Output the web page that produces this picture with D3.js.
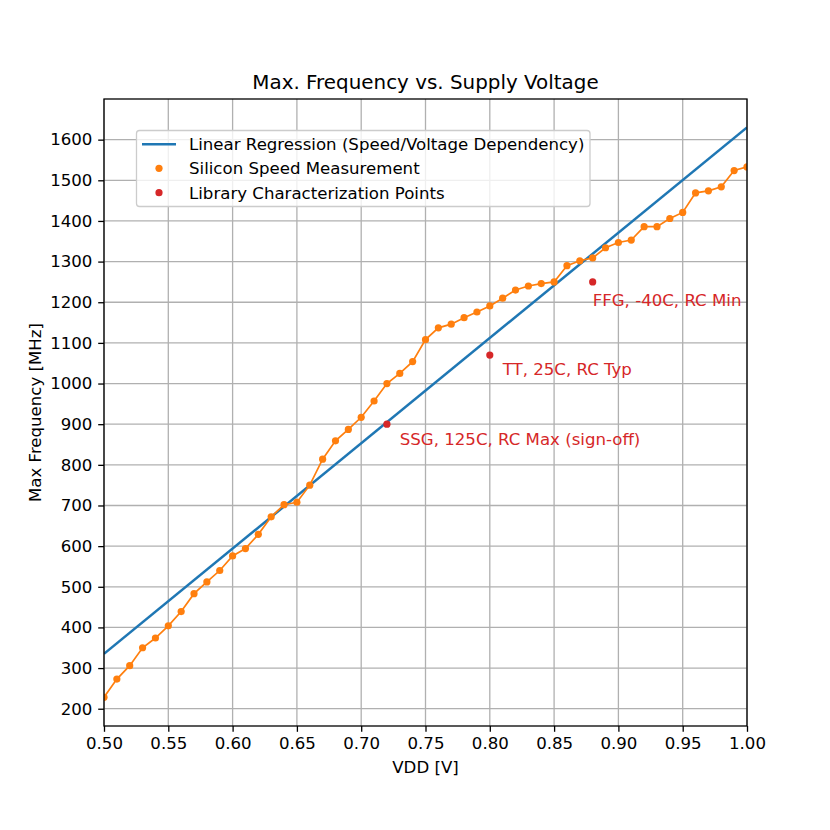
<!DOCTYPE html>
<html>
<head>
<meta charset="utf-8">
<script src="https://cdn.jsdelivr.net/npm/d3@7"></script>
<style>
  body { margin: 0; background: #fff; }
  text { font-family: 'DejaVu Sans', sans-serif; }
</style>
</head>
<body>
<div id="chart"></div>
<script>
// measured silicon speed
const vdd = [0.50, 0.51, 0.52, 0.53, 0.54, 0.55, 0.56, 0.57, 0.58, 0.59,
             0.60, 0.61, 0.62, 0.63, 0.64, 0.65, 0.66, 0.67, 0.68, 0.69,
             0.70, 0.71, 0.72, 0.73, 0.74, 0.75, 0.76, 0.77, 0.78, 0.79,
             0.80, 0.81, 0.82, 0.83, 0.84, 0.85, 0.86, 0.87, 0.88, 0.89,
             0.90, 0.91, 0.92, 0.93, 0.94, 0.95, 0.96, 0.97, 0.98, 0.99, 1.00];
const freq = [228, 273, 306, 350, 374, 404, 439, 483, 512, 540,
              576, 594, 629, 672, 702, 708, 750, 814, 859, 887,
              917, 957, 1000, 1025, 1054, 1108, 1137, 1146, 1162, 1176,
              1191, 1210, 1230, 1240, 1246, 1250, 1290, 1302, 1309, 1334,
              1347, 1353, 1386, 1386, 1406, 1421, 1469, 1474, 1484, 1524, 1533];

// linear regression end points
const regVdd = [0.50, 1.00];
const regFreq = [335, 1630];

// library characterization points
const libVdd = [0.72, 0.80, 0.88];
const libFreq = [900, 1070, 1250];
const libLabels = ['SSG, 125C, RC Max (sign-off)', 'TT, 25C, RC Typ', 'FFG, -40C, RC Min'];
const libLabelVdd = [0.73, 0.81, 0.88];
const libLabelFreq = [850, 1020, 1190];

const xTicks = [0.50, 0.55, 0.60, 0.65, 0.70, 0.75, 0.80, 0.85, 0.90, 0.95, 1.00];
const yTicks = [200, 300, 400, 500, 600, 700, 800, 900, 1000, 1100, 1200, 1300, 1400, 1500, 1600];

const legendItems = ['Linear Regression (Speed/Voltage Dependency)', 'Silicon Speed Measurement', 'Library Characterization Points'];

const W = 830, H = 830;
const pLeft = 104, pRight = 747, pTop = 99, pBottom = 726;
const fs = '16.6px';

const svg = d3.select('#chart')
    .append('svg')
    .attr('width', W)
    .attr('height', H);

svg.append('rect').attr('width', W).attr('height', H).attr('fill', 'white');

const x = d3.scaleLinear().domain([0.50, 1.00]).range([pLeft, pRight]);
const y = d3.scaleLinear().domain([157.5, 1700]).range([pBottom, pTop]);

// grid
svg.append('g')
    .selectAll('line')
    .data(xTicks)
    .enter()
    .append('line')
    .attr('x1', d => x(d)).attr('x2', d => x(d))
    .attr('y1', pTop).attr('y2', pBottom)
    .attr('stroke', '#b0b0b0')
    .attr('stroke-width', 1.3);

svg.append('g')
    .selectAll('line')
    .data(yTicks)
    .enter()
    .append('line')
    .attr('x1', pLeft).attr('x2', pRight)
    .attr('y1', d => y(d)).attr('y2', d => y(d))
    .attr('stroke', '#b0b0b0')
    .attr('stroke-width', 1.3);

// clip
svg.append('clipPath').attr('id', 'clip')
    .append('rect').attr('x', pLeft).attr('y', pTop).attr('width', pRight - pLeft).attr('height', pBottom - pTop);
const plot = svg.append('g').attr('clip-path', 'url(#clip)');

// regression
const line = d3.line().x(d => x(d[0])).y(d => y(d[1]));
plot.append('path')
    .datum(d3.zip(regVdd, regFreq))
    .attr('d', line)
    .attr('fill', 'none')
    .attr('stroke', '#1f77b4')
    .attr('stroke-width', 2.5);

// measurement
plot.append('path')
    .datum(d3.zip(vdd, freq))
    .attr('d', line)
    .attr('fill', 'none')
    .attr('stroke', '#ff7f0e')
    .attr('stroke-width', 1.7);

plot.selectAll('.meas')
    .data(d3.zip(vdd, freq))
    .enter()
    .append('circle')
    .attr('class', 'meas')
    .attr('cx', d => x(d[0]))
    .attr('cy', d => y(d[1]))
    .attr('r', 3.6)
    .attr('fill', '#ff7f0e');

plot.selectAll('.lib')
    .data(d3.zip(libVdd, libFreq))
    .enter()
    .append('circle')
    .attr('class', 'lib')
    .attr('cx', d => x(d[0]))
    .attr('cy', d => y(d[1]))
    .attr('r', 3.6)
    .attr('fill', '#d62728');

svg.selectAll('.libtext')
    .data(libLabels)
    .enter()
    .append('text')
    .attr('class', 'libtext')
    .attr('x', (d, i) => x(libLabelVdd[i]))
    .attr('y', (d, i) => y(libLabelFreq[i]))
    .attr('font-size', fs)
    .attr('fill', '#d62728')
    .text(d => d);

// axes
const xAxis = svg.append('g')
    .attr('transform', 'translate(0,' + pBottom + ')')
    .call(d3.axisBottom(x).tickValues(xTicks).tickFormat(d3.format('.2f')).tickSizeOuter(0).tickSize(5.8).tickPadding(5.8));
const yAxis = svg.append('g')
    .attr('transform', 'translate(' + pLeft + ',0)')
    .call(d3.axisLeft(y).tickValues(yTicks).tickFormat(d3.format('d')).tickSizeOuter(0).tickSize(5.8).tickPadding(5.8));

[xAxis, yAxis].forEach(a => {
    a.select('.domain').remove();
    a.selectAll('line').attr('stroke', 'black').attr('stroke-width', 1.3);
    a.selectAll('text').attr('font-size', fs).attr('fill', 'black')
        .attr('font-family', "'DejaVu Sans', sans-serif");
});

// spines
svg.append('rect')
    .attr('x', pLeft).attr('y', pTop)
    .attr('width', pRight - pLeft).attr('height', pBottom - pTop)
    .attr('fill', 'none')
    .attr('stroke', 'black')
    .attr('stroke-width', 1.3);

// labels
svg.append('text')
    .attr('x', (pLeft + pRight) / 2)
    .attr('y', 89)
    .attr('text-anchor', 'middle')
    .attr('font-size', '19.9px')
    .text('Max. Frequency vs. Supply Voltage');

svg.append('text')
    .attr('x', (pLeft + pRight) / 2)
    .attr('y', 773)
    .attr('text-anchor', 'middle')
    .attr('font-size', fs)
    .text('VDD [V]');

svg.append('text')
    .attr('transform', 'translate(41,' + ((pTop + pBottom) / 2) + ') rotate(-90)')
    .attr('text-anchor', 'middle')
    .attr('font-size', fs)
    .text('Max Frequency [MHz]');

// legend
const lg = svg.append('g');
lg.append('rect')
    .attr('x', 136.5).attr('y', 130.5)
    .attr('width', 453.5).attr('height', 76)
    .attr('rx', 3)
    .attr('fill', 'white')
    .attr('fill-opacity', 0.8)
    .attr('stroke', '#cccccc')
    .attr('stroke-width', 1.3);

const legendY = [144.3, 168.3, 192.7];
lg.append('line')
    .attr('x1', 142).attr('x2', 176)
    .attr('y1', legendY[0]).attr('y2', legendY[0])
    .attr('stroke', '#1f77b4').attr('stroke-width', 2.5);
lg.append('circle').attr('cx', 159).attr('cy', legendY[1]).attr('r', 3.6).attr('fill', '#ff7f0e');
lg.append('circle').attr('cx', 159).attr('cy', legendY[2]).attr('r', 3.6).attr('fill', '#d62728');

lg.selectAll('.lgtext')
    .data(legendItems)
    .enter()
    .append('text')
    .attr('class', 'lgtext')
    .attr('x', 189)
    .attr('y', (d, i) => legendY[i])
    .attr('dy', '0.35em')
    .attr('font-size', fs)
    .text(d => d);
</script>
</body>
</html>
